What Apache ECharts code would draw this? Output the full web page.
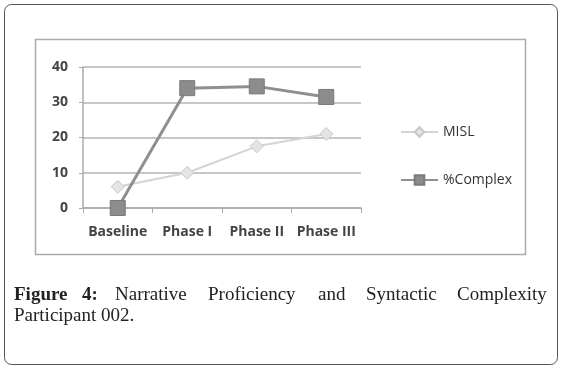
<!DOCTYPE html>
<html>
<head>
<meta charset="utf-8">
<script src="https://cdn.jsdelivr.net/npm/echarts@6/dist/echarts.min.js"></script>
<style>
  html, body { margin: 0; padding: 0; background: #fff; }
  #chart { width: 563px; height: 372px; }
</style>
</head>
<body>
<div id="chart"></div>
<script>
// data
var phases = ['Baseline', 'Phase I', 'Phase II', 'Phase III'];
var misl = [6, 10, 17.5, 21];
var complexPct = [0, 34, 34.5, 31.5];
var yTicks = [0, 10, 20, 30, 40];

var chart = echarts.init(document.getElementById('chart'));

// caption words, laid out justified like the source
var capFont = '"Liberation Serif", "DejaVu Serif", serif';
var line1 = [
  { t: 'Figure', x: 14, bold: true },
  { t: '4:', x: 82, bold: true },
  { t: 'Narrative', x: 115 },
  { t: 'Proficiency', x: 208 },
  { t: 'and', x: 318 },
  { t: 'Syntactic', x: 366 },
  { t: 'Complexity', x: 457 }
];
var captionEls = line1.map(function (w) {
  return {
    type: 'text',
    left: w.x,
    top: 286,
    style: {
      text: w.t,
      font: (w.bold ? 'bold ' : '') + '19px ' + capFont,
      fill: '#222'
    }
  };
});
captionEls.push({
  type: 'text',
  left: 14,
  top: 307,
  style: { text: 'Participant 002.', font: '19px ' + capFont, fill: '#222' }
});

var option = {
  animation: false,
  grid: { left: 83, right: 202, top: 67, bottom: 164 },
  graphic: [
    {
      type: 'rect',
      shape: { x: 4.5, y: 4.5, width: 553, height: 360, r: 7 },
      style: { fill: 'none', stroke: '#555', lineWidth: 1 },
      silent: true
    },
    {
      type: 'rect',
      shape: { x: 35.5, y: 39.5, width: 490, height: 215 },
      style: { fill: 'none', stroke: '#aaa', lineWidth: 1.5 },
      silent: true
    }
  ].concat(captionEls),
  legend: {
    orient: 'vertical',
    left: 395,
    top: 120,
    itemWidth: 37,
    itemHeight: 12,
    itemGap: 34,
    textStyle: { fontSize: 14, color: '#333', fontFamily: 'Open Sans' },
    data: ['MISL', '%Complex']
  },
  xAxis: {
    type: 'category',
    data: phases,
    boundaryGap: true,
    axisLine: { lineStyle: { color: '#aaa', width: 1.5 } },
    axisTick: { show: true, length: 5, lineStyle: { color: '#aaa' } },
    axisLabel: {
      interval: 0,
      hideOverlap: false,
      color: '#444',
      fontSize: 14,
      fontWeight: 'bold',
      fontFamily: 'Open Sans',
      margin: 17
    }
  },
  yAxis: {
    type: 'value',
    min: yTicks[0],
    max: yTicks[yTicks.length - 1],
    interval: 10,
    axisLine: { show: true, lineStyle: { color: '#aaa', width: 1.5 } },
    axisTick: { show: true, length: 4, lineStyle: { color: '#aaa' } },
    axisLabel: { color: '#444', fontSize: 14, fontWeight: 'bold', fontFamily: 'Open Sans', margin: 15 },
    splitLine: { lineStyle: { color: '#b4b4b4', width: 1.5 } }
  },
  series: [
    {
      name: 'MISL',
      type: 'line',
      data: misl,
      symbol: 'diamond',
      symbolSize: 13,
      lineStyle: { color: '#d4d4d4', width: 2 },
      itemStyle: { color: '#e4e4e4', borderColor: '#c8c8c8', borderWidth: 1 },
      z: 2
    },
    {
      name: '%Complex',
      type: 'line',
      data: complexPct,
      symbol: 'rect',
      symbolSize: 15,
      lineStyle: { color: '#8f8f8f', width: 3 },
      itemStyle: { color: '#8c8c8c', borderColor: '#7a7a7a', borderWidth: 1 },
      z: 3
    }
  ]
};
chart.setOption(option);
</script>
</body>
</html>
